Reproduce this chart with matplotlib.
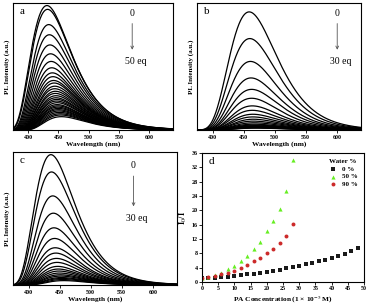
import numpy as np
import matplotlib
matplotlib.use("Agg")
import matplotlib.pyplot as plt

plt.rcParams['font.family'] = ['Liberation Serif', 'DejaVu Serif']
plt.rcParams['mathtext.fontset'] = 'stix'

# ---- data ----
wl_ticks = [400, 450, 500, 550, 600]

a_heights = [0.98, 0.95, 0.83, 0.75, 0.67, 0.60, 0.54, 0.49, 0.45, 0.42, 0.39, 0.37,
             0.345, 0.325, 0.305, 0.288, 0.27, 0.254, 0.241, 0.228, 0.215, 0.20,
             0.19, 0.18, 0.17, 0.16, 0.15, 0.139, 0.128, 0.118, 0.105]
a_centers = [431, 432, 434, 435, 436, 437, 438, 439, 440, 441, 442, 443,
             444, 444, 445, 445, 446, 446, 447, 447, 448, 448, 449, 449,
             450, 450, 451, 452, 453, 454, 455]

b_heights = [0.93, 0.72, 0.54, 0.41, 0.32, 0.25, 0.19, 0.155, 0.124, 0.103, 0.085,
             0.07, 0.057, 0.046, 0.039, 0.034, 0.030, 0.027, 0.024, 0.021, 0.019,
             0.017, 0.015]
b_centers = [459, 460, 461, 462, 463, 463, 464, 464, 465, 465, 466, 466, 467,
             467, 468, 468, 468, 469, 469, 469, 470, 470, 470]

c_heights = [0.98, 0.85, 0.67, 0.54, 0.43, 0.35, 0.28, 0.24, 0.20, 0.17, 0.14,
             0.12, 0.105, 0.09, 0.077, 0.067, 0.056, 0.049, 0.041, 0.033]
c_centers = [436, 437, 439, 440, 441, 442, 443, 444, 445, 446, 447, 448, 449,
             450, 451, 452, 453, 454, 455, 457]

pa_black = [0, 2, 4, 6, 8, 10, 12, 14, 16, 18, 20, 22, 24, 26, 28, 30, 32, 34,
            36, 38, 40, 42, 44, 46, 48]
i_black = [1.0, 1.1, 1.2, 1.35, 1.5, 1.7, 1.9, 2.1, 2.3, 2.55, 2.8, 3.1, 3.4,
           3.8, 4.2, 4.6, 5.0, 5.4, 5.8, 6.2, 6.7, 7.2, 7.9, 8.7, 9.6]
pa_green = [0, 2, 4, 6, 8, 10, 12, 14, 16, 18, 20, 22, 24, 26, 28]
i_green = [1.1, 1.5, 2.0, 2.6, 3.6, 4.6, 5.9, 7.2, 9.2, 11.3, 14.1, 17.0, 20.4,
           25.5, 34.0]
pa_red = [0, 2, 4, 6, 8, 10, 12, 14, 16, 18, 20, 22, 24, 26, 28]
i_red = [1.0, 1.3, 1.7, 2.1, 2.6, 3.2, 3.9, 4.7, 5.9, 6.8, 8.1, 9.2, 10.8,
         12.9, 16.2]

legend_labels = ["0 %", "50 %", "90 %"]


def profile(x, x0, h, w, b):
    arg = 1 + 2 * b * (x - x0) / w
    out = np.zeros_like(x)
    m = arg > 0
    out[m] = h * np.exp(-np.log(2) / b ** 2 * np.log(arg[m]) ** 2)
    return out


fig = plt.figure(figsize=(3.68, 3.06), dpi=100)
W, H = 368, 306


def add_ax(l, t, r, btm):
    return fig.add_axes([l / W, 1 - btm / H, (r - l) / W, (btm - t) / H])


ax_a = add_ax(13, 3, 173, 130)
ax_b = add_ax(197, 3, 361, 130)
ax_c = add_ax(13, 152, 177, 285)
ax_d = add_ax(202, 153, 364, 282)

x = np.linspace(372, 645, 600)


def spectra(ax, heights, centers, w, b, letter, txt_end, txt_xy):
    for hh, cc in zip(heights, centers):
        ax.plot(x, profile(x, cc, hh, w, b), color='black', lw=0.9)
    ax.set_xlim(375, 639)
    ax.set_ylim(0, 1.0)
    ax.set_xticks(wl_ticks)
    ax.set_yticks([])
    ax.tick_params(axis='x', direction='out', length=2, width=0.6, pad=1.5,
                   labelsize=4.3)
    for lab in ax.get_xticklabels():
        lab.set_fontweight('bold')
    ax.set_xlabel('Wavelength (nm)', fontsize=5.3, fontweight='bold', labelpad=1)
    ax.set_ylabel('PL Intensity (a.u.)', fontsize=5, fontweight='bold', labelpad=2)
    for s in ax.spines.values():
        s.set_linewidth(0.8)
    ax.text(0.04, 0.97, letter, transform=ax.transAxes, fontsize=8,
            va='top', ha='left')
    tx, ty0, ty1 = txt_xy
    ax.text(tx, ty0, '0', transform=ax.transAxes, fontsize=7, ha='center', va='center')
    ax.annotate('', xy=(tx, ty1 + 0.07), xytext=(tx, ty0 - 0.06),
                xycoords='axes fraction',
                arrowprops=dict(arrowstyle='->', color='#555555', lw=0.6,
                                mutation_scale=5))
    ax.text(tx + 0.02, ty1, txt_end, transform=ax.transAxes, fontsize=7,
            ha='center', va='center')


spectra(ax_a, a_heights, a_centers, 78, 0.5, 'a', '50 eq', (0.745, 0.92, 0.54))
spectra(ax_b, b_heights, b_centers, 90, 0.42, 'b', '30 eq', (0.855, 0.92, 0.54))
spectra(ax_c, c_heights, c_centers, 76, 0.47, 'c', '30 eq', (0.735, 0.90, 0.50))

ax_d.scatter(pa_black, i_black, marker='s', s=6, color='#1a1a1a', label=legend_labels[0], linewidths=0)
ax_d.scatter(pa_green, i_green, marker='^', s=9, color='#66ee22', label=legend_labels[1], linewidths=0)
ax_d.scatter(pa_red, i_red, marker='o', s=8, color='#cc2a2a', label=legend_labels[2], linewidths=0)
ax_d.set_xlim(0, 50)
ax_d.set_ylim(0, 36)
ax_d.set_xticks(range(0, 51, 5))
ax_d.set_yticks(range(0, 37, 4))
ax_d.tick_params(direction='out', length=2, width=0.6, pad=1, labelsize=4.3)
for lab in ax_d.get_xticklabels() + ax_d.get_yticklabels():
    lab.set_fontweight('bold')
ax_d.set_xlabel('PA Concentration (1 × 10$^{-5}$ M)', fontsize=5.3, fontweight='bold', labelpad=2)
ax_d.set_ylabel('I$_0$/I', fontsize=6, fontweight='bold', labelpad=2)
for s in ax_d.spines.values():
    s.set_linewidth(0.8)
ax_d.text(0.04, 0.97, 'd', transform=ax_d.transAxes, fontsize=8, va='top', ha='left')
leg = ax_d.legend(title='Water %', loc='upper right', frameon=False, fontsize=5,
                  title_fontproperties={'size': 5, 'weight': 'bold'},
                  handletextpad=0.6, labelspacing=0.25, borderaxespad=0.5,
                  handlelength=1.5)
for t in leg.get_texts():
    t.set_fontweight('bold')

fig.savefig('out.png', dpi=100)
